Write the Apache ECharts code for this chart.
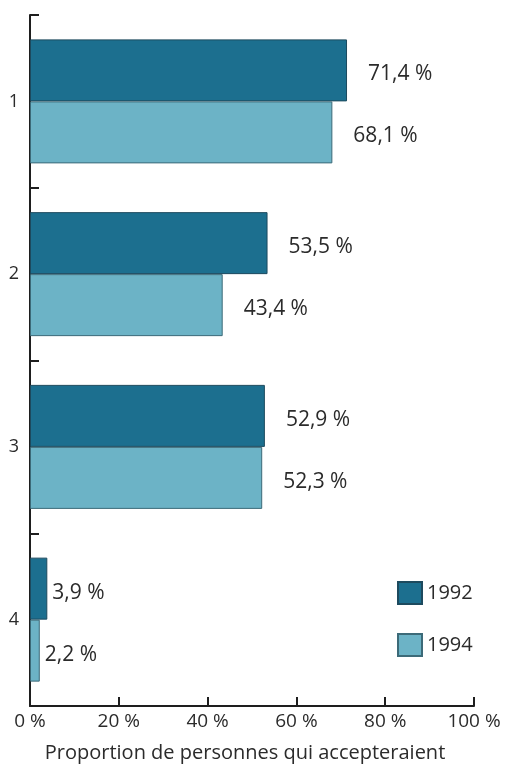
<!DOCTYPE html>
<html>
<head>
<meta charset="utf-8">
<script src="https://cdn.jsdelivr.net/npm/echarts@6/dist/echarts.min.js"></script>
<style>
  html, body { margin: 0; padding: 0; background: #ffffff; }
  #chart { width: 511px; height: 775px; }
</style>
</head>
<body>
<div id="chart"></div>
<script>
// Categories (top to bottom) and the share of people for each survey year
var categories = ['1', '2', '3', '4'];
var values1992 = [71.4, 53.5, 52.9, 3.9];
var values1994 = [68.1, 43.4, 52.3, 2.2];
var xTicks = [0, 20, 40, 60, 80, 100];
var axisTitle = 'Proportion de personnes qui accepteraient';

var FONT = '"Open Sans", "Noto Sans", sans-serif';
var TEXT = '#2b2b2b';
var DARK = '#1c6f8f';
var LIGHT = '#6cb3c6';

function fr(v) { return String(v).replace('.', ',') + ' %'; }

// Short bars keep their label close; longer ones leave some air
function withLabels(arr) {
  return arr.map(function (v) {
    return { value: v, label: { distance: v < 10 ? 5 : 21 } };
  });
}

function barSeries(name, data, color, border) {
  return {
    name: name,
    type: 'bar',
    data: withLabels(data),
    barWidth: 62,
    barGap: '0%',
    itemStyle: { color: color, borderColor: border, borderWidth: 1 },
    label: {
      show: true,
      position: 'right',
      offset: [0, 4],
      formatter: function (p) { return fr(p.value); },
      color: TEXT,
      fontFamily: FONT,
      fontSize: 21
    }
  };
}

var chart = echarts.init(document.getElementById('chart'));
chart.setOption({
  animation: false,
  backgroundColor: '#ffffff',
  grid: { left: 30, right: 37, top: 15, bottom: 69, containLabel: false },
  legend: {
    orient: 'vertical',
    left: 392,
    top: 576,
    itemWidth: 24,
    itemHeight: 22,
    itemGap: 28,
    icon: 'rect',
    textStyle: { color: TEXT, fontFamily: FONT, fontSize: 20 },
    data: ['1992', '1994']
  },
  xAxis: {
    type: 'value',
    min: xTicks[0],
    max: xTicks[xTicks.length - 1],
    interval: xTicks[1] - xTicks[0],
    axisLine: { show: true, lineStyle: { color: '#1e1e1e', width: 2 } },
    axisTick: { show: true, inside: true, length: 9, lineStyle: { color: '#1e1e1e', width: 2 } },
    splitLine: { show: false },
    axisLabel: {
      color: TEXT, fontFamily: FONT, fontSize: 19, margin: 6,
      formatter: function (v) { return v + ' %'; }
    },
    name: axisTitle,
    nameLocation: 'middle',
    nameGap: 37,
    nameTextStyle: { color: TEXT, fontFamily: FONT, fontSize: 20, padding: [0, 14, 0, 0] }
  },
  yAxis: {
    type: 'category',
    inverse: true,
    data: categories,
    axisLine: { show: true, lineStyle: { color: '#1e1e1e', width: 2 } },
    axisTick: { show: true, inside: true, length: 9, lineStyle: { color: '#1e1e1e', width: 2 } },
    axisLabel: { color: TEXT, fontFamily: FONT, fontSize: 18, margin: 11 }
  },
  series: [
    barSeries('1992', values1992, DARK, '#1d4a5e'),
    barSeries('1994', values1994, LIGHT, '#3c6a78')
  ]
});
</script>
</body>
</html>
